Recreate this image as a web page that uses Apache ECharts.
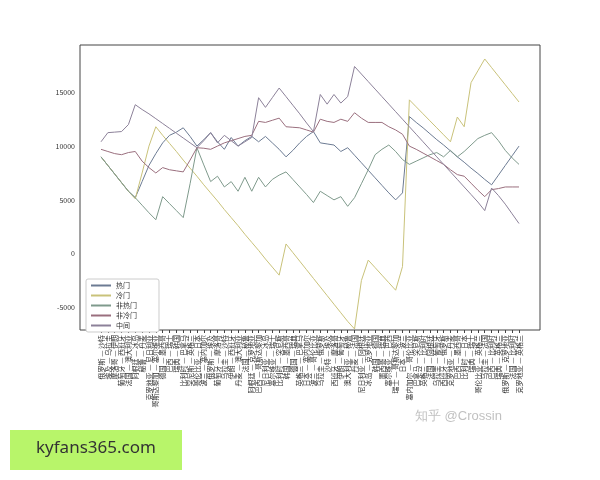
<!DOCTYPE html>
<html>
<head>
<meta charset="utf-8">
<script src="https://cdn.jsdelivr.net/npm/echarts@6/dist/echarts.min.js"></script>
<style>html,body{margin:0;background:#fff}#main{width:600px;height:480px}</style>
</head>
<body>
<div id="main"></div>
<script>
var matches = [
    '俄罗斯 — 沙特', '埃及 — 乌拉圭', '摩洛哥 — 伊朗', '葡萄牙 — 西班牙', '法国 — 澳大利亚', '阿根廷 — 冰岛',
    '秘鲁 — 丹麦', '克罗地亚 — 尼日利亚', '哥斯达黎加 — 塞尔维亚', '德国 — 墨西哥', '巴西 — 瑞士', '瑞典 — 韩国',
    '比利时 — 巴拿马', '突尼斯 — 英格兰', '哥伦比亚 — 日本', '波兰 — 塞内加尔', '俄罗斯 — 埃及', '葡萄牙 — 摩洛哥',
    '乌拉圭 — 沙特', '伊朗 — 西班牙', '丹麦 — 澳大利亚', '法国 — 秘鲁', '阿根廷 — 克罗地亚', '巴西 — 哥斯达黎加',
    '尼日利亚 — 冰岛', '塞尔维亚 — 瑞士', '比利时 — 突尼斯', '韩国 — 墨西哥', '德国 — 瑞典', '英格兰 — 巴拿马',
    '日本 — 塞内加尔', '波兰 — 哥伦比亚', '乌拉圭 — 俄罗斯', '沙特 — 埃及', '西班牙 — 摩洛哥', '伊朗 — 葡萄牙',
    '澳大利亚 — 秘鲁', '丹麦 — 法国', '尼日利亚 — 阿根廷', '冰岛 — 克罗地亚', '韩国 — 德国', '墨西哥 — 瑞典',
    '塞尔维亚 — 巴西', '瑞士 — 哥斯达黎加', '日本 — 波兰', '塞内加尔 — 哥伦比亚', '巴拿马 — 突尼斯', '英格兰 — 比利时',
    '法国 — 阿根廷', '乌拉圭 — 葡萄牙', '西班牙 — 俄罗斯', '克罗地亚 — 丹麦', '巴西 — 墨西哥', '比利时 — 日本',
    '瑞典 — 瑞士', '哥伦比亚 — 英格兰', '乌拉圭 — 法国', '巴西 — 比利时', '瑞典 — 英格兰', '俄罗斯 — 克罗地亚',
    '法国 — 比利时', '克罗地亚 — 英格兰'
];

var remen = [ // 热门
    9000, 8200, 7400, 6600, 5800, 5200, 6700, 8200, 9300, 10300, 11000, 11300, 11700, 10900, 10000, 10600,
    11250, 10400, 9700, 10800, 10000, 10500, 10900, 10400, 10900, 10300, 9700, 9000, 9600, 10300, 10900, 11350,
    10300, 10200, 10100, 9500, 9850, 9150, 8450, 7750, 7050, 6350, 5650, 5000, 5650, 12750, 12200, 11700,
    11150, 10600, 10100, 9550, 9000, 8500, 7950, 7450, 6900, 6400, 7300, 8200, 9100, 10000
];
var lengmen = [ // 冷门
    9000, 8200, 7400, 6600, 5800, 5100, 7500, 10000, 11800, 11000, 10250, 9500, 8700, 7950, 7200, 6400,
    5650, 4900, 4100, 3350, 2600, 1800, 1050, 300, -500, -1250, -2000, 900, 100, -700, -1500, -2300,
    -3100, -3900, -4700, -5500, -6300, -7000, -2500, -600, -1300, -2000, -2700, -3400, -1200, 14300, 13650, 13000,
    12350, 11700, 11050, 10400, 12700, 11800, 15900, 17000, 18100, 17300, 16500, 15700, 14900, 14100
];
var feiremen = [ // 非热门
    9000, 8200, 7400, 6600, 5800, 5200, 4500, 3800, 3150, 5300, 4650, 4000, 3350, 6500, 9850, 8250,
    6700, 7200, 6200, 6700, 5800, 7100, 5800, 7100, 6200, 6900, 7300, 7600, 6900, 6200, 5500, 4750,
    5800, 5400, 5000, 5300, 4400, 5200, 6500, 7800, 9200, 9700, 10100, 9500, 8750, 8300, 8600, 8900,
    9200, 9400, 9000, 9600, 9000, 9500, 10100, 10700, 11000, 11250, 10500, 9600, 8900, 8300
];
var feilengmen = [ // 非冷门
    9700, 9500, 9300, 9200, 9400, 9500, 8600, 8000, 7500, 8000, 7800, 7700, 7600, 8700, 9850, 9800,
    9700, 10000, 10300, 10500, 10700, 10900, 11000, 12300, 12200, 12400, 12600, 11800, 11750, 11700, 11500, 11300,
    12500, 12300, 12200, 12500, 12300, 13100, 12600, 12200, 12200, 12200, 11800, 11500, 11100, 10000, 9700, 9350,
    9000, 8650, 8300, 7800, 7350, 7200, 6550, 5900, 5300, 5950, 6050, 6200, 6200, 6200
];
var zhongjian = [ // 中间
    10400, 11250, 11300, 11350, 12000, 13850, 13400, 13000, 12550, 12100, 11650, 11200, 10750, 10300, 9850, 10500,
    11250, 10300, 11000, 10500, 10000, 10400, 10800, 14500, 13600, 14500, 15400, 14600, 13800, 13000, 12150, 11350,
    14800, 13900, 14800, 14000, 14600, 17400, 16700, 16000, 15300, 14600, 13900, 13200, 12500, 11800, 11100, 10400,
    9700, 9000, 8300, 7600, 6900, 6200, 5500, 4800, 4000, 6100, 5400, 4600, 3700, 2800
];
var yTicks = [-5000, 0, 5000, 10000, 15000];

var names = ['热门', '冷门', '非热门', '非冷门', '中间'];
var colors = ['#6c7b93', '#c9c27a', '#7f9a8c', '#9a6f7e', '#8c8199'];
var dataList = [remen, lengmen, feiremen, feilengmen, zhongjian];

var series = dataList.map(function (d, k) {
    return {
        name: names[k],
        type: 'line',
        data: d,
        symbol: 'none',
        lineStyle: { width: 1, color: colors[k] },
        itemStyle: { color: colors[k] }
    };
});

var option = {
    animation: false,
    textStyle: { fontFamily: 'Noto Sans CJK SC' },
    grid: { left: 101, right: 81, top: 45, bottom: 150 },
    legend: {
        data: names,
        orient: 'vertical',
        left: 86, top: 279,
        itemWidth: 20, itemHeight: 2, itemGap: 3,
        icon: 'rect',
        borderColor: '#ccc', borderWidth: 1, borderRadius: 2,
        padding: [3, 22, 3, 5],
        backgroundColor: '#fff',
        textStyle: { fontSize: 7, color: '#333' }
    },
    xAxis: {
        type: 'category',
        data: matches,
        boundaryGap: false,
        axisLine: { show: false, onZero: false },
        axisTick: { alignWithLabel: true, lineStyle: { color: '#444' }, length: 3 },
        axisLabel: { rotate: 90, interval: 0, fontSize: 7, color: '#333', margin: 5 },
        splitLine: { show: false }
    },
    yAxis: {
        type: 'value',
        min: -7100, max: 19400,
        axisLine: { show: false },
        axisTick: { show: false },
        axisLabel: {
            customValues: yTicks, fontSize: 7, color: '#333', margin: 26,
            formatter: function (v) { return String(v); }
        },
        splitLine: { show: false }
    },
    graphic: [
        { type: 'rect', shape: { x: 80, y: 45, width: 460, height: 285 }, style: { fill: 'none', stroke: '#444', lineWidth: 1 } },
        { type: 'rect', shape: { x: 10, y: 430, width: 172, height: 40 }, style: { fill: '#b8f56a' } },
        { type: 'text', left: 36, top: 440, style: { text: 'kyfans365.com', fontSize: 17, fill: '#333', fontFamily: 'Noto Sans' } },
        { type: 'text', left: 415, top: 410, style: { text: '知乎 @Crossin', fontSize: 13, fill: 'rgba(150,150,150,0.6)' } }
    ],
    series: series
};

var myChart = echarts.init(document.getElementById('main'));
myChart.setOption(option);
</script>
</body>
</html>
